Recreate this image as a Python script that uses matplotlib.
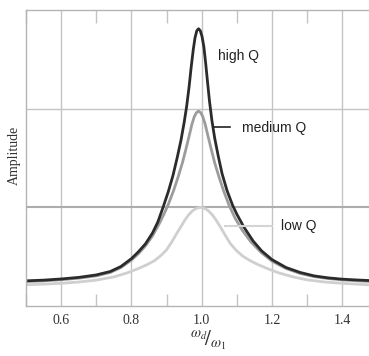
import numpy as np
import matplotlib
matplotlib.use('Agg')
import matplotlib.pyplot as plt
from matplotlib.ticker import MultipleLocator

# values
x_high = [0.500, 0.550, 0.600, 0.650, 0.700, 0.740, 0.770, 0.800, 0.820, 0.840,
          0.860, 0.875, 0.890, 0.905, 0.918, 0.930, 0.941, 0.950, 0.957, 0.964,
          0.970, 0.976, 0.981, 0.986, 0.991, 0.996, 1.001, 1.006, 1.011, 1.016,
          1.022, 1.029, 1.037, 1.047, 1.058, 1.072, 1.088, 1.100, 1.120, 1.146,
          1.170, 1.200, 1.240, 1.280, 1.320, 1.360, 1.400, 1.440, 1.476]
y_high = [0.255, 0.262, 0.274, 0.290, 0.315, 0.350, 0.400, 0.480, 0.550, 0.630,
          0.740, 0.850, 1.000, 1.160, 1.320, 1.500, 1.680, 1.860, 2.020, 2.220,
          2.420, 2.600, 2.720, 2.790, 2.810, 2.790, 2.730, 2.630, 2.470, 2.290,
          2.080, 1.880, 1.700, 1.520, 1.340, 1.170, 1.020, 0.930, 0.800, 0.660,
          0.560, 0.470, 0.390, 0.340, 0.305, 0.285, 0.272, 0.264, 0.258]

x_med = [0.500, 0.550, 0.600, 0.650, 0.700, 0.740, 0.770, 0.800, 0.820, 0.840,
         0.860, 0.880, 0.895, 0.906, 0.920, 0.933, 0.945, 0.955, 0.964, 0.972,
         0.979, 0.985, 0.991, 0.997, 1.003, 1.010, 1.018, 1.027, 1.037, 1.049,
         1.063, 1.078, 1.095, 1.115, 1.140, 1.170, 1.200, 1.240, 1.280, 1.320,
         1.360, 1.400, 1.440, 1.476]
y_med = [0.248, 0.255, 0.266, 0.282, 0.305, 0.340, 0.390, 0.465, 0.530, 0.610,
         0.710, 0.840, 0.950, 1.040, 1.170, 1.310, 1.450, 1.590, 1.720, 1.840,
         1.920, 1.960, 1.975, 1.960, 1.920, 1.840, 1.720, 1.590, 1.450, 1.310,
         1.160, 1.020, 0.890, 0.770, 0.650, 0.540, 0.455, 0.380, 0.330, 0.298,
         0.278, 0.265, 0.256, 0.250]

x_low = [0.500, 0.550, 0.600, 0.650, 0.700, 0.750, 0.790, 0.820, 0.845, 0.865,
         0.885, 0.900, 0.915, 0.928, 0.940, 0.952, 0.963, 0.974, 0.985, 0.996,
         1.007, 1.018, 1.030, 1.042, 1.055, 1.068, 1.082, 1.098, 1.115, 1.135,
         1.160, 1.190, 1.220, 1.260, 1.300, 1.350, 1.400, 1.440, 1.476]
y_low = [0.215, 0.222, 0.230, 0.243, 0.262, 0.295, 0.338, 0.380, 0.420, 0.458,
         0.515, 0.570, 0.650, 0.730, 0.800, 0.870, 0.925, 0.965, 0.990, 1.000,
         0.992, 0.968, 0.925, 0.865, 0.790, 0.710, 0.630, 0.565, 0.510, 0.465,
         0.420, 0.375, 0.335, 0.295, 0.265, 0.243, 0.230, 0.222, 0.215]

plt.rcParams['mathtext.fontset'] = 'stix'

fig = plt.figure(figsize=(3.69, 3.56), dpi=100)
ax = fig.add_axes([26 / 369, 1 - 306 / 356, 1 - 26 / 369, 296 / 356])

grid_c = '#c4c4c4'
for xv in [0.6, 0.8, 1.0, 1.2, 1.4]:
    ax.axvline(xv, color=grid_c, lw=1.0, zorder=0)
ax.axhline(2, color=grid_c, lw=1.0, zorder=0)
ax.axhline(1, color='#adadad', lw=1.5, zorder=0)

ax.plot(x_low, y_low, color='#cfcfcf', lw=2.0, solid_joinstyle='round')
ax.plot(x_med, y_med, color='#9c9c9c', lw=2.0, solid_joinstyle='round')
ax.plot(x_high, y_high, color='#2b2b2b', lw=2.0, solid_joinstyle='round')

ax.set_xlim(0.5, 1.476)
ax.set_ylim(0, 3)

ax.xaxis.set_minor_locator(MultipleLocator(0.1))
ax.set_xticks([0.6, 0.8, 1.0, 1.2, 1.4])
ax.set_xticklabels(['0.6', '0.8', '1.0', '1.2', '1.4'],
                   family='Liberation Serif', fontsize=10)
ax.tick_params(axis='x', which='major', length=0, pad=6, colors='#333333')
ax.tick_params(axis='x', which='minor', length=9, direction='in',
               top=True, bottom=True, color=grid_c, width=1)
ax.set_yticks([])

for side in ['left', 'bottom', 'top']:
    ax.spines[side].set_color('#b4b4b4')
    ax.spines[side].set_linewidth(1.0)
ax.spines['right'].set_visible(False)

# labels
ax.text(1.047, 2.53, 'high Q', family='Liberation Sans', fontsize=10,
        va='center', ha='left', color='#222222')
ax.plot([1.036, 1.081], [1.81, 1.81], color='#222222', lw=1.2)
ax.text(1.115, 1.80, 'medium Q', family='Liberation Sans', fontsize=10,
        va='center', ha='left', color='#222222')
ax.plot([1.067, 1.20], [0.81, 0.81], color='#d4d4d4', lw=1.5)
ax.text(1.226, 0.81, 'low Q', family='Liberation Sans', fontsize=10,
        va='center', ha='left', color='#222222')

fig.text(14 / 369, 1 - 155 / 356, 'Amplitude', family='Liberation Serif',
         fontsize=10, rotation=90, ha='center', va='center', color='#333333')

fig.text(208 / 369, 1 - 340 / 356, r'${}^{\omega_d}\!/_{\omega_1}$',
         fontsize=15, ha='center', va='center', color='#333333')

fig.savefig('out.png', dpi=100)
